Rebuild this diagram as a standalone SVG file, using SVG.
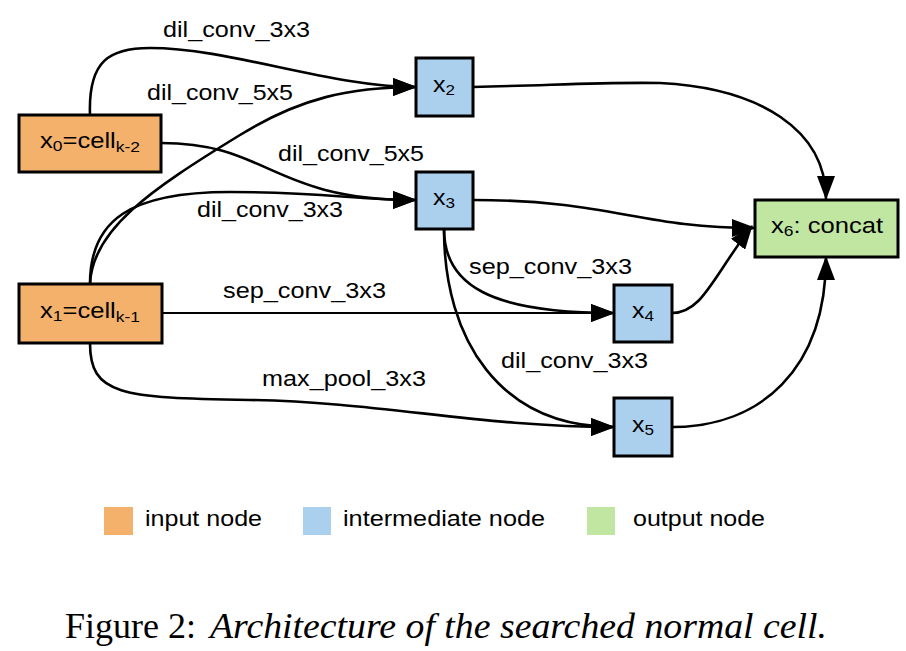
<svg xmlns="http://www.w3.org/2000/svg" width="906" height="651" viewBox="0 0 906 651">
<style>
  .box { stroke: #000; stroke-width: 3; }
  .in { fill: #F3B16C; }
  .mid { fill: #ABD0EE; }
  .out { fill: #C1E6A2; }
  .edge { fill: none; stroke: #000; stroke-width: 2.6; marker-end: url(#arr); }
  .lbl { font-family: "Liberation Sans", Arial, sans-serif; font-size: 22px; fill: #000; }
  .sub { font-size: 15px; }
  .cap { font-family: "Liberation Serif", "Times New Roman", serif; font-size: 36px; fill: #000; }
</style>
<defs>
  <marker id="arr" markerUnits="userSpaceOnUse" viewBox="0 0 24 18" markerWidth="24" markerHeight="18" refX="23" refY="9" orient="auto">
    <path d="M0,0 L24,9 L0,18 z" fill="#000"/>
  </marker>
</defs>
<rect width="906" height="651" fill="#fff"/>

<g id="connectors">
  <path class="edge" d="M90,115 C88,60 110,48 150,48 C230,48 330,87 416,87"/>
  <path class="edge" d="M90,284 C92,230 150,190 240,135 C300,98 350,87 416,87"/>
  <path class="edge" d="M161,143 C270,143 270,200 416,200"/>
  <path class="edge" d="M90,284 C90,220 130,192 230,192 C320,192 360,200 416,200"/>
  <path class="edge" d="M162,313 L614,313" style="stroke-width:2.2"/>
  <path class="edge" d="M90,343 C90,395 120,398 250,400 C380,402 480,427 614,427"/>
  <path class="edge" d="M444,229 C444,285 490,313 614,313"/>
  <path class="edge" d="M444,229 C444,340 500,427 614,427"/>
  <path class="edge" d="M473,87 C560,85 600,82 660,83 C760,88 826,130 826,199"/>
  <path class="edge" d="M473,200 C610,200 640,228 755,228"/>
  <path class="edge" d="M672,313 C702,313 712,278 752,226"/>
  <path class="edge" d="M672,427 C760,427 826,370 826,257"/>
  <text class="lbl" x="163" y="37" textLength="147" lengthAdjust="spacingAndGlyphs">dil_conv_3x3</text>
  <text class="lbl" x="147" y="100" textLength="146" lengthAdjust="spacingAndGlyphs">dil_conv_5x5</text>
  <text class="lbl" x="278" y="161" textLength="146" lengthAdjust="spacingAndGlyphs">dil_conv_5x5</text>
  <text class="lbl" x="197" y="217" textLength="146" lengthAdjust="spacingAndGlyphs">dil_conv_3x3</text>
  <text class="lbl" x="223" y="298" textLength="163" lengthAdjust="spacingAndGlyphs">sep_conv_3x3</text>
  <text class="lbl" x="262" y="386" textLength="164" lengthAdjust="spacingAndGlyphs">max_pool_3x3</text>
  <text class="lbl" x="469" y="274" textLength="163" lengthAdjust="spacingAndGlyphs">sep_conv_3x3</text>
  <text class="lbl" x="501" y="368" textLength="147" lengthAdjust="spacingAndGlyphs">dil_conv_3x3</text>
</g>

<g id="node-x0">
  <rect class="box in" x="19" y="115" width="142" height="57"/>
  <text class="lbl" x="40" y="148" textLength="100" lengthAdjust="spacingAndGlyphs">x<tspan class="sub" dy="3">0</tspan><tspan dy="-3">=cell</tspan><tspan class="sub" dy="4">k-2</tspan></text>
</g>
<g id="node-x1">
  <rect class="box in" x="19" y="284" width="143" height="59"/>
  <text class="lbl" x="40" y="318" textLength="100" lengthAdjust="spacingAndGlyphs">x<tspan class="sub" dy="3">1</tspan><tspan dy="-3">=cell</tspan><tspan class="sub" dy="4">k-1</tspan></text>
</g>
<g id="node-x2">
  <rect class="box mid" x="416" y="58" width="57" height="58"/>
  <text class="lbl" x="433" y="92" textLength="22" lengthAdjust="spacingAndGlyphs">x<tspan class="sub" dy="3">2</tspan></text>
</g>
<g id="node-x3">
  <rect class="box mid" x="416" y="172" width="57" height="57"/>
  <text class="lbl" x="433" y="205" textLength="22" lengthAdjust="spacingAndGlyphs">x<tspan class="sub" dy="3">3</tspan></text>
</g>
<g id="node-x4">
  <rect class="box mid" x="614" y="285" width="58" height="57"/>
  <text class="lbl" x="632" y="318" textLength="22" lengthAdjust="spacingAndGlyphs">x<tspan class="sub" dy="3">4</tspan></text>
</g>
<g id="node-x5">
  <rect class="box mid" x="614" y="398" width="58" height="58"/>
  <text class="lbl" x="632" y="432" textLength="22" lengthAdjust="spacingAndGlyphs">x<tspan class="sub" dy="3">5</tspan></text>
</g>
<g id="node-x6">
  <rect class="box out" x="755" y="200" width="143" height="57"/>
  <text class="lbl" x="771" y="233" textLength="112" lengthAdjust="spacingAndGlyphs">x<tspan class="sub" dy="3">6</tspan><tspan dy="-3">: concat</tspan></text>
</g>

<g id="legend">
  <rect class="in" x="104" y="507" width="29" height="28"/>
  <text class="lbl" x="145" y="526" textLength="117" lengthAdjust="spacingAndGlyphs">input node</text>
  <rect class="mid" x="303" y="507" width="28" height="28"/>
  <text class="lbl" x="343" y="526" textLength="202" lengthAdjust="spacingAndGlyphs">intermediate node</text>
  <rect class="out" x="587" y="507" width="28" height="28"/>
  <text class="lbl" x="633" y="526" textLength="132" lengthAdjust="spacingAndGlyphs">output node</text>
</g>

<g id="caption">
  <text class="cap" x="65" y="638" textLength="131" lengthAdjust="spacingAndGlyphs">Figure 2:</text>
  <text class="cap" x="210" y="638" font-style="italic" textLength="617" lengthAdjust="spacingAndGlyphs">Architecture of the searched normal cell.</text>
</g>
</svg>
